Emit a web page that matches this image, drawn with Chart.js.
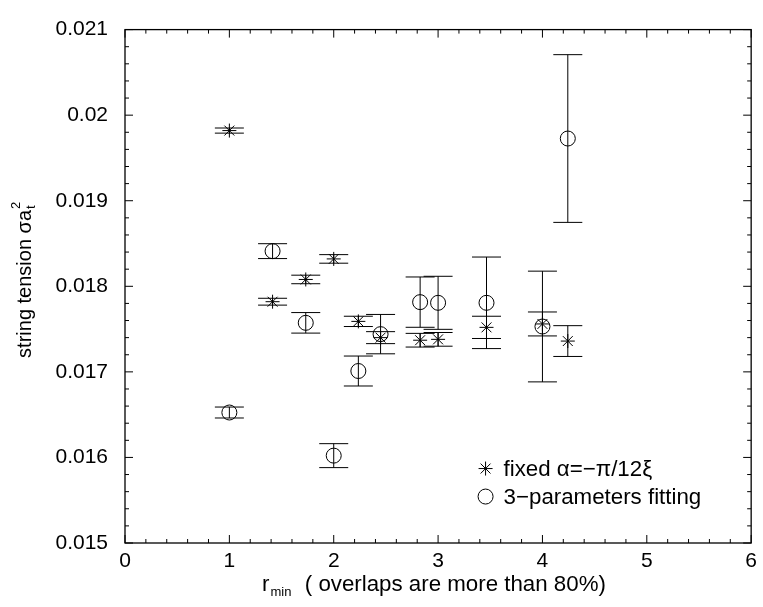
<!DOCTYPE html>
<html><head><meta charset="utf-8">
<script src="https://cdn.jsdelivr.net/npm/chart.js@4/dist/chart.umd.min.js"></script>
<style>html,body{margin:0;padding:0;background:#fff;}</style>
</head><body>
<canvas id="c" width="763" height="607"></canvas>
<script>
// ---- data ----
const rMin = [1, 1.414, 1.732, 2, 2.236, 2.449, 2.828, 3, 3.464, 4, 4.243];
const fixedAlpha    = [0.01982, 0.01782, 0.01808, 0.01832, 0.01759, 0.01740, 0.01737, 0.01738, 0.01752, 0.01756, 0.01736];
const fixedAlphaErr = [0.00003, 0.00004, 0.00005, 0.00005, 0.00006, 0.00007, 0.00008, 0.00008, 0.00013, 0.00014, 0.00018];
const threeParam    = [0.016525, 0.018411, 0.017573, 0.016021, 0.017010, 0.017441, 0.017815, 0.017807, 0.017807, 0.017530, 0.019727];
const threeParamErr = [0.000064, 0.000087, 0.00012, 0.00014, 0.000175, 0.00023, 0.000294, 0.00031, 0.000535, 0.000647, 0.00098];
const xTicks = [0, 1, 2, 3, 4, 5, 6];
const yTicks = [0.015, 0.016, 0.017, 0.018, 0.019, 0.020, 0.021];
const legendLabels = ['fixed \u03B1=\u2212\u03C0/12\u03BE', '3\u2212parameters fitting'];

const FF = "'Liberation Sans', Arial, sans-serif";
const FS = 21;

function pts(xs, ys, es) { return xs.map((x, i) => ({x: x, y: ys[i], e: es[i]})); }

const errorBars = {
  id: 'errorBars',
  beforeDatasetsDraw(chart) {
    const ctx = chart.ctx, xs = chart.scales.x, ys = chart.scales.y;
    ctx.save();
    ctx.strokeStyle = '#000';
    ctx.lineWidth = 1;
    chart.data.datasets.forEach(ds => {
      ds.data.forEach(p => {
        const px = xs.getPixelForValue(p.x);
        const y1 = ys.getPixelForValue(p.y + p.e), y2 = ys.getPixelForValue(p.y - p.e);
        const hw = 14.5;
        ctx.beginPath();
        ctx.moveTo(px, y1); ctx.lineTo(px, y2);
        ctx.moveTo(px - hw, y1); ctx.lineTo(px + hw, y1);
        ctx.moveTo(px - hw, y2); ctx.lineTo(px + hw, y2);
        ctx.stroke();
      });
    });
    ctx.restore();
  }
};

const frame = {
  id: 'frame',
  beforeDatasetsDraw(chart) {
    const ctx = chart.ctx, a = chart.chartArea, xs = chart.scales.x, ys = chart.scales.y;
    ctx.save();
    ctx.strokeStyle = '#000';
    ctx.lineWidth = 1.3;
    ctx.strokeRect(a.left, a.top, a.right - a.left, a.bottom - a.top);
    ctx.lineWidth = 1;
    ctx.beginPath();
    for (let i = 0; i <= 30; i++) {
      const v = xs.min + i * (xs.max - xs.min) / 30;
      const px = xs.getPixelForValue(v);
      const len = (i % 5 === 0) ? 8 : 4;
      ctx.moveTo(px, a.bottom); ctx.lineTo(px, a.bottom - len);
      ctx.moveTo(px, a.top); ctx.lineTo(px, a.top + len);
    }
    for (let i = 0; i <= 30; i++) {
      const v = ys.min + i * (ys.max - ys.min) / 30;
      const py = ys.getPixelForValue(v);
      const len = (i % 5 === 0) ? 8 : 4;
      ctx.moveTo(a.left, py); ctx.lineTo(a.left + len, py);
      ctx.moveTo(a.right, py); ctx.lineTo(a.right - len, py);
    }
    ctx.stroke();
    ctx.restore();
  },
  afterDraw(chart) {
    const ctx = chart.ctx, a = chart.chartArea;
    ctx.save();
    ctx.fillStyle = '#000';
    ctx.textAlign = 'left';
    ctx.textBaseline = 'alphabetic';
    // y title
    ctx.save();
    const cy = (a.top + a.bottom) / 2 - 6;
    ctx.translate(31, cy);
    ctx.rotate(-Math.PI / 2);
    const main = 'string tension \u03C3a';
    ctx.font = '20px ' + FF;
    const w1 = ctx.measureText(main).width;
    ctx.font = '13px ' + FF;
    const w2 = ctx.measureText('2').width;
    let x0 = -(w1 + w2) / 2;
    ctx.font = '20px ' + FF;
    ctx.fillText(main, x0, 0);
    ctx.font = '13px ' + FF;
    ctx.fillText('t', x0 + w1 + 1, 4);
    ctx.fillText('2', x0 + w1 + 1, -11);
    ctx.restore();
    // x title
    const XF = '22.3px ' + FF;
    ctx.font = XF;
    const r = 'r';
    const rest = '  ( overlaps are more than 80%)';
    const wr = ctx.measureText(r).width;
    ctx.font = '13px ' + FF;
    const wm = ctx.measureText('min').width;
    let sx = 262;
    const by = 591;
    ctx.font = XF;
    ctx.fillText(r, sx, by);
    ctx.font = '13px ' + FF;
    ctx.fillText('min', sx + wr + 1, by + 5);
    ctx.font = XF;
    ctx.fillText(rest, sx + wr + wm + 2, by);
    // legend
    const xs = chart.scales.x, ys = chart.scales.y;
    const lx = xs.getPixelForValue(3.455);
    const ly1 = ys.getPixelForValue(0.01587);
    const ly2 = ly1 + 28;
    ctx.strokeStyle = '#000';
    ctx.lineWidth = 1;
    Chart.helpers.drawPoint(ctx, {pointStyle: 'star', radius: 7, rotation: 0}, lx, ly1);
    ctx.stroke();
    ctx.beginPath();
    ctx.arc(lx, ly2, 7.5, 0, Math.PI * 2);
    ctx.stroke();
    ctx.font = '22.3px ' + FF;
    ctx.textBaseline = 'middle';
    ctx.fillText(legendLabels[0], lx + 18, ly1 + 1);
    ctx.fillText(legendLabels[1], lx + 18, ly2 + 1);
    ctx.restore();
  }
};

new Chart(document.getElementById('c'), {
  type: 'scatter',
  data: {
    datasets: [
      {label: legendLabels[0], data: pts(rMin, fixedAlpha, fixedAlphaErr), pointStyle: 'star',
       pointRadius: 7, pointBorderColor: '#000', pointBackgroundColor: '#000', pointBorderWidth: 1},
      {label: legendLabels[1], data: pts(rMin, threeParam, threeParamErr), pointStyle: 'circle',
       pointRadius: 7.5, pointBorderColor: '#000', pointBackgroundColor: 'rgba(0,0,0,0)', pointBorderWidth: 1}
    ]
  },
  options: {
    responsive: false,
    animation: false,
    devicePixelRatio: 1,
    layout: {padding: {left: 0, right: 7, top: 23, bottom: 0}},
    plugins: {legend: {display: false}, tooltip: {enabled: false}},
    scales: {
      x: {
        type: 'linear', min: 0, max: 6,
        afterBuildTicks: s => { s.ticks = xTicks.map(v => ({value: v})); },
        afterFit: s => { s.height = 64; },
        grid: {display: false, drawTicks: false},
        border: {display: false},
        ticks: {color: '#000', font: {family: FF, size: FS}, padding: 6, maxRotation: 0,
                callback: v => String(v)}
      },
      y: {
        type: 'linear', min: 0.015, max: 0.021,
        afterBuildTicks: s => { s.ticks = yTicks.map(v => ({value: v})); },
        afterFit: s => { s.width = 125; },
        grid: {display: false, drawTicks: false},
        border: {display: false},
        ticks: {color: '#000', font: {family: FF, size: FS}, padding: 17,
                callback: v => String(parseFloat(Number(v).toFixed(3)))}
      }
    }
  },
  plugins: [frame, errorBars]
});
</script>
</body></html>
